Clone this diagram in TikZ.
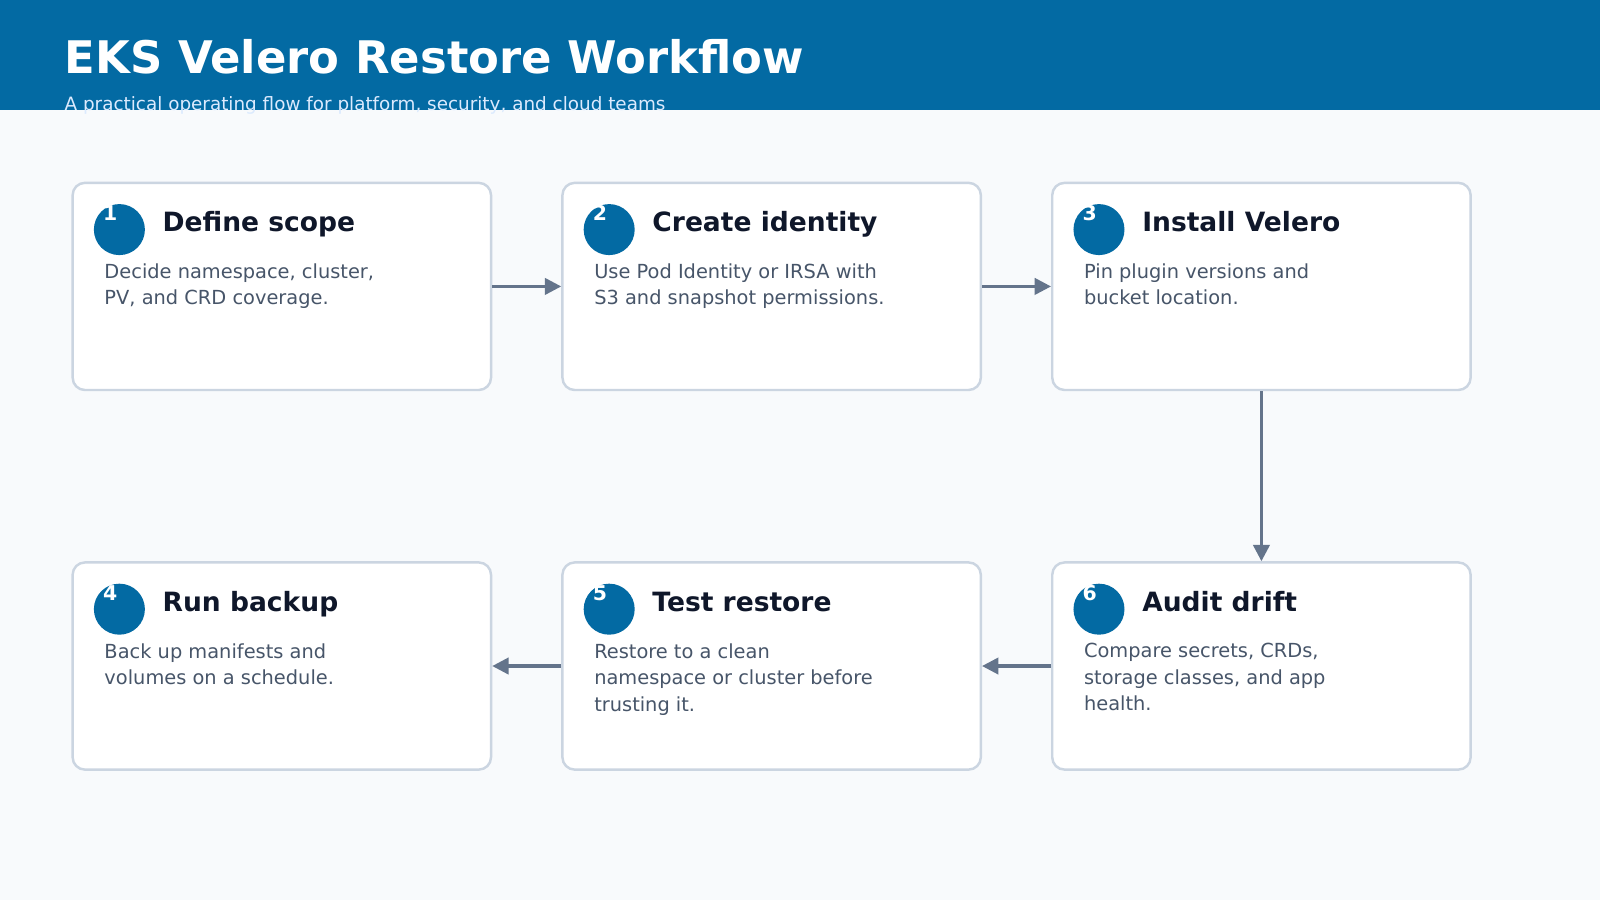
\documentclass[tikz,border=0pt]{standalone}
\usepackage{fontspec}
\setmainfont{DejaVu Sans}
\usetikzlibrary{arrows.meta}
\definecolor{hdr}{HTML}{036AA3}
\definecolor{bg}{HTML}{F8FAFC}
\definecolor{bord}{HTML}{CBD5E1}
\definecolor{ttl}{HTML}{0F172A}
\definecolor{bod}{HTML}{475569}
\definecolor{arr}{HTML}{64748B}
\definecolor{sub}{HTML}{DBEAFE}
\begin{document}
\begin{tikzpicture}[x=0.5pt,y=-0.5pt,
 card/.style={draw=bord,line width=1.2pt,fill=white,rounded corners=6pt,minimum width=205pt,minimum height=101.5pt,inner sep=0pt},
 num/.style={circle,fill=hdr,minimum size=25pt,inner sep=0pt},
 digit/.style={text=white,font=\bfseries\fontsize{10}{12}\selectfont,inner sep=0pt},
 ctitle/.style={anchor=base west,text=ttl,font=\bfseries\fontsize{13}{15}\selectfont,inner sep=0pt},
 cbody/.style={anchor=north west,text=bod,font=\fontsize{9.5}{13}\selectfont,align=left,inner sep=0pt},
 flow/.style={draw=arr,line width=1.5pt,-{Triangle[length=8pt,width=8pt]}}]
\useasboundingbox (0,0) rectangle (1568,882);
\fill[bg] (0,0) rectangle (1568,882);
\fill[hdr] (0,0) rectangle (1568,108);
\node[anchor=base west,text=white,font=\bfseries\fontsize{22}{26}\selectfont,inner sep=0pt] (title) at (63,72) {EKS Velero Restore Workflow};
\node[anchor=base west,text=sub,font=\fontsize{9}{11}\selectfont,inner sep=0pt] (subtitle) at (63,108) {A practical operating flow for platform, security, and cloud teams};
\foreach \n/\x/\y/\t/\b in {
 1/70/178/Define scope/{Decide namespace, cluster,\\PV, and CRD coverage.},
 2/550/178/Create identity/{Use Pod Identity or IRSA with\\S3 and snapshot permissions.},
 3/1030/178/Install Velero/{Pin plugin versions and\\bucket location.},
 4/70/550/Run backup/{Back up manifests and\\volumes on a schedule.},
 5/550/550/Test restore/{Restore to a clean\\namespace or cluster before\\trusting it.},
 6/1030/550/Audit drift/{Compare secrets, CRDs,\\storage classes, and app\\health.}}{
 \node[card,anchor=north west] (c\n) at (\x,\y) {};
 \node[num] (n\n) at (\x+47,\y+47) {};
 \node[digit] (d\n) at (\x+38,\y+31) {\n};
 \node[ctitle] (t\n) at (\x+89,\y+49) {\t};
 \node[cbody] (b\n) at (\x+32,\y+80) {\b};
}
\draw[flow] (c1.east) -- (c2.west);
\draw[flow] (c2.east) -- (c3.west);
\draw[flow] (c3.south) -- (c6.north);
\draw[flow] (c6.west) -- (c5.east);
\draw[flow] (c5.west) -- (c4.east);
\end{tikzpicture}
\end{document}
